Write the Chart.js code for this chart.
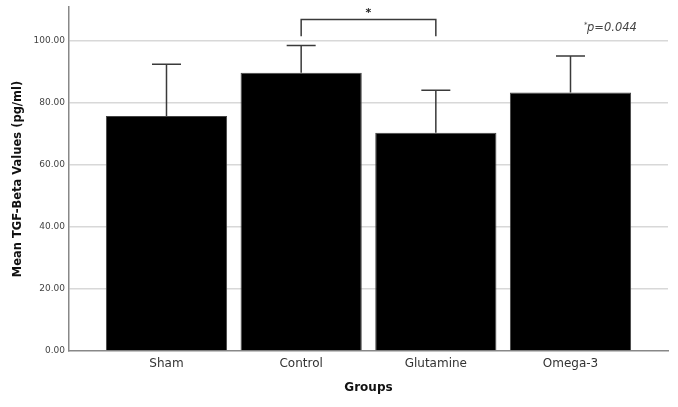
<!DOCTYPE html>
<html>
<head>
<meta charset="utf-8">
<script src="https://cdn.jsdelivr.net/npm/chart.js@4"></script>
<style>
  html, body { margin: 0; padding: 0; background: #fff; }
  #wrap { width: 678px; height: 407px; }
</style>
</head>
<body>
<div id="wrap"><canvas id="chart" width="678" height="407"></canvas></div>
<script>
  // Data
  const groups = ["Sham", "Control", "Glutamine", "Omega-3"];
  const means = [75.8, 89.8, 70.4, 83.4];
  const upperErr = [92.5, 98.6, 84.1, 95.2];
  const yTicks = [0, 20, 40, 60, 80, 100];
  const bracketPair = [1, 2];         // Control vs Glutamine
  const bracketLevels = [101.6, 107]; // bottom / top of bracket
  const pNote = "p=0.044";

  const font = "'DejaVu Sans', sans-serif";

  // error bars (upper only) + significance bracket
  const extras = {
    id: "extras",
    afterDatasetsDraw(chart) {
      const { ctx, scales: { x, y } } = chart;
      ctx.save();
      ctx.strokeStyle = "#3a3a3a";
      ctx.lineWidth = 1.5;
      means.forEach((m, i) => {
        const px = x.getPixelForValue(i);
        const y0 = y.getPixelForValue(m);
        const y1 = y.getPixelForValue(upperErr[i]);
        ctx.beginPath();
        ctx.moveTo(px, y0);
        ctx.lineTo(px, y1);
        ctx.moveTo(px - 14.5, y1);
        ctx.lineTo(px + 14.5, y1);
        ctx.stroke();
      });

      const xa = x.getPixelForValue(bracketPair[0]);
      const xb = x.getPixelForValue(bracketPair[1]);
      const yb = y.getPixelForValue(bracketLevels[0]);
      const yt = y.getPixelForValue(bracketLevels[1]);
      ctx.beginPath();
      ctx.moveTo(xa, yb);
      ctx.lineTo(xa, yt);
      ctx.lineTo(xb, yt);
      ctx.lineTo(xb, yb);
      ctx.stroke();

      ctx.fillStyle = "#222";
      ctx.font = "bold 11px " + font;
      ctx.textAlign = "center";
      ctx.textBaseline = "middle";
      ctx.fillText("*", (xa + xb) / 2, yt - 6);

      // p-value note with a small raised star
      ctx.fillStyle = "#444";
      ctx.font = "italic 11.5px " + font;
      ctx.textAlign = "left";
      const px0 = x.getPixelForValue(3.1);
      const py0 = y.getPixelForValue(104.2);
      ctx.fillText(pNote, px0 + 3, py0);
      ctx.font = "7px " + font;
      ctx.fillText("*", px0, py0 - 3);
      ctx.restore();
    }
  };

  new Chart(document.getElementById("chart"), {
    type: "bar",
    data: {
      datasets: [{
        data: means.map((m, i) => ({ x: i, y: m })),
        backgroundColor: "#000",
        borderColor: "#444",
        borderWidth: 1,
        categoryPercentage: 0.9,
        barPercentage: 1.0
      }]
    },
    options: {
      responsive: false,
      animation: false,
      layout: { padding: { top: 7, right: 10, left: 0, bottom: 0 } },
      plugins: { legend: { display: false }, tooltip: { enabled: false } },
      scales: {
        x: {
          type: "linear",
          offset: false,
          min: -0.724,
          max: 3.724,
          grid: { display: false, drawTicks: false },
          border: { color: "#888", width: 1.5 },
          afterBuildTicks: (axis) => { axis.ticks = groups.map((g, i) => ({ value: i })); },
          afterFit: (axis) => { axis.height = 56; axis.paddingLeft = 0; axis.paddingRight = 0; },
          ticks: {
            autoSkip: false,
            maxRotation: 0,
            padding: 6,
            color: "#333",
            font: { family: font, size: 12 },
            callback: (v) => groups[v]
          },
          title: {
            display: true,
            text: "Groups",
            color: "#111",
            padding: { top: 0, bottom: 12 },
            font: { family: font, size: 12, weight: "bold" }
          }
        },
        y: {
          min: 0,
          max: 111,
          grid: {
            drawTicks: false,
            lineWidth: 1.5,
            color: (c) => (c.tick && c.tick.value === 0 ? "rgba(0,0,0,0)" : "#d8d8d8")
          },
          border: { color: "#888", width: 1.5 },
          afterBuildTicks: (axis) => { axis.ticks = yTicks.map((v) => ({ value: v })); },
          afterFit: (axis) => { axis.width = 69; axis.paddingTop = 0; axis.paddingBottom = 0; },
          ticks: {
            padding: 4,
            color: "#444",
            font: { family: font, size: 9 },
            callback: (v) => v.toFixed(2)
          },
          title: {
            display: true,
            text: "Mean TGF-Beta Values (pg/ml)",
            color: "#111",
            padding: { top: 11, bottom: 0 },
            font: { family: font, size: 11.5, weight: "bold" }
          }
        }
      }
    },
    plugins: [extras]
  });
</script>
</body>
</html>
